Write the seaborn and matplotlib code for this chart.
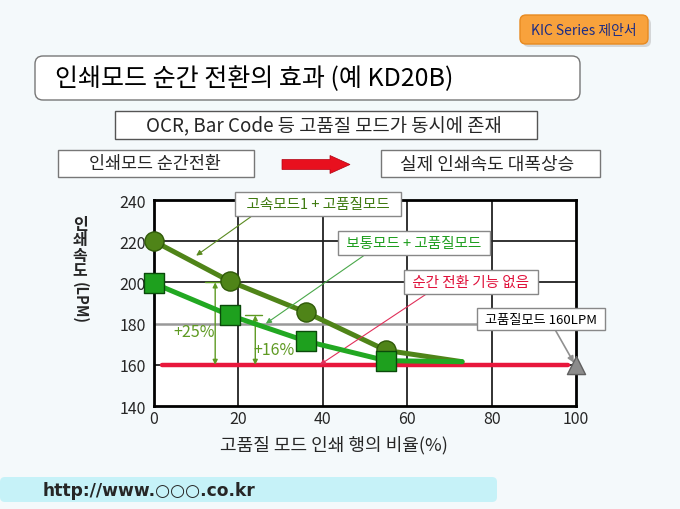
import matplotlib
matplotlib.use("Agg")
import matplotlib.pyplot as plt
import seaborn as sns
from matplotlib.patches import FancyBboxPatch, Rectangle, FancyArrow

# 데이터
ratio = [0, 18, 36, 55]
fast_speed = [220, 200.5, 185.5, 167]      # 고속모드1 + 고품질모드
normal_speed = [199.5, 184, 171.5, 162]    # 보통모드 + 고품질모드
tail_ratio = [55, 73]
fast_tail = [167, 161.5]
normal_tail = [162, 161.5]
no_switch_x = [2, 98]                      # 순간 전환 기능 없음
no_switch_y = [160, 160]
hq_x = [100]                               # 고품질모드 160LPM
hq_y = [160]
x_ticks = [0, 20, 40, 60, 80, 100]
y_ticks = [140, 160, 180, 200, 220, 240]

sns.set_style("white")
plt.rcParams['font.family'] = ['Noto Sans CJK KR', 'DejaVu Sans']

BG = '#f4f9fb'
fig = plt.figure(figsize=(6.8, 5.1), dpi=100, facecolor=BG)

# 슬라이드 배경 (픽셀 좌표)
bg = fig.add_axes([0, 0, 1, 1], zorder=0)
bg.set_xlim(0, 680)
bg.set_ylim(510, 0)
bg.axis('off')

# KIC 박스
bg.add_patch(FancyBboxPatch((523, 19), 128, 29, boxstyle='round,pad=0,rounding_size=6',
                            fc='#c0c0c0', ec='none', alpha=0.6))
bg.add_patch(FancyBboxPatch((520, 16), 128, 29, boxstyle='round,pad=0,rounding_size=6',
                            fc='#f8a23c', ec='#e88a20', lw=1))
bg.text(584, 31, 'KIC Series 제안서', ha='center', va='center', fontsize=10, color='#1b2c86')

# 제목 박스
bg.add_patch(FancyBboxPatch((35, 57), 545, 44, boxstyle='round,pad=0,rounding_size=8',
                            fc='white', ec='#777777', lw=1))
bg.text(55, 79, '인쇄모드 순간 전환의 효과 (예 KD20B)', ha='left', va='center',
        fontsize=18, style='italic', color='black')

bg.add_patch(Rectangle((115, 112), 422, 28, fc='white', ec='#555555', lw=1))
bg.text(324, 126, 'OCR, Bar Code 등 고품질 모드가 동시에 존재', ha='center', va='center', fontsize=13.5)

bg.add_patch(Rectangle((58, 151), 196, 27, fc='white', ec='#777777', lw=1))
bg.text(155, 164.5, '인쇄모드 순간전환', ha='center', va='center', fontsize=12.5)

bg.add_patch(FancyArrow(282, 165.5, 48, 0, width=10, head_width=18, head_length=20,
                        length_includes_head=False, fc='#e8101e', ec='#b00010', lw=0.5))

bg.add_patch(Rectangle((381, 151), 219, 27, fc='white', ec='#777777', lw=1))
bg.text(487, 164.5, '실제 인쇄속도 대폭상승', ha='center', va='center', fontsize=13)

# 하단 URL 바
bg.add_patch(FancyBboxPatch((0, 478), 497, 25, boxstyle='round,pad=0,rounding_size=5',
                            fc='#c6f2f8', ec='none'))
bg.text(43, 491, 'http://www.○○○.co.kr', ha='left', va='center', fontsize=12.3,
        fontweight='bold', family=['DejaVu Sans', 'Noto Sans CJK KR'])

# y축 라벨 (세로 글자)
bg.text(80, 248, '인\n쇄\n속\n도', ha='center', va='center', fontsize=11.5, linespacing=0.95,
        fontweight='bold')
bg.text(80, 303, '(LPM)', ha='center', va='center', fontsize=10.5, rotation=-90, fontweight='bold')
bg.text(334, 445, '고품질 모드 인쇄 행의 비율(%)', ha='center', va='center', fontsize=13)

# 메인 그래프
ax = fig.add_axes([154 / 680, 1 - 407 / 510, (576 - 154) / 680, (407 - 201) / 510], zorder=1)
ax.set_facecolor('white')
ax.set_xlim(0, 100)
ax.set_ylim(140, 240)
ax.set_xticks(x_ticks)
ax.set_yticks(y_ticks)
ax.tick_params(axis='x', length=0, labelsize=11.5, pad=3)
ax.tick_params(axis='y', length=0, labelsize=11.5, pad=6)
for s in ax.spines.values():
    s.set_color('black')
    s.set_linewidth(2)
for xv in x_ticks[1:-1]:
    ax.axvline(xv, color='#222222', lw=1.3, zorder=0)
for yv in [160, 200, 220]:
    ax.axhline(yv, color='#222222', lw=1.3, zorder=0)
ax.axhline(180, color='#999999', lw=1.8, zorder=0)
ax.set_xlabel('')
ax.set_ylabel('')

sns.lineplot(x=no_switch_x, y=no_switch_y, color='#e8173c', linewidth=3.2, ax=ax, zorder=2)
sns.lineplot(x=ratio, y=fast_speed, color='#4f8418', linewidth=3.6, ax=ax, zorder=3)
sns.lineplot(x=tail_ratio, y=fast_tail, color='#4f8418', linewidth=3.6, ax=ax, zorder=3)
sns.lineplot(x=ratio, y=normal_speed, color='#22a822', linewidth=3.6, ax=ax, zorder=4)
sns.lineplot(x=tail_ratio, y=normal_tail, color='#22a822', linewidth=3.6, ax=ax, zorder=4)
sns.scatterplot(x=ratio, y=fast_speed, marker='o', s=190, color='#4f8418',
                edgecolor='#2f5a08', linewidth=1, ax=ax, zorder=5, clip_on=False)
sns.scatterplot(x=ratio, y=normal_speed, marker='s', s=190, color='#1ea01e',
                edgecolor='#0a4a0a', linewidth=1, ax=ax, zorder=6, clip_on=False)
sns.scatterplot(x=hq_x, y=hq_y, marker='^', s=170, color='#8c8c8c',
                edgecolor='#606060', linewidth=1, ax=ax, zorder=6, clip_on=False)

# +25%, +16% 표시
ac = '#5e9a22'
ax.annotate('', xy=(14.5, 160), xytext=(14.5, 200),
            arrowprops=dict(arrowstyle='<|-|>', color=ac, lw=1, mutation_scale=7, shrinkA=0, shrinkB=0))
ax.annotate('', xy=(24, 160), xytext=(24, 184),
            arrowprops=dict(arrowstyle='<|-|>', color=ac, lw=1, mutation_scale=7, shrinkA=0, shrinkB=0))
ax.plot([21.5, 25.5], [184, 184], color=ac, lw=1)
ax.plot([12, 17], [200, 200], color=ac, lw=1)
ax.text(9.5, 176, '+25%', color=ac, fontsize=11.5, ha='center', va='center')
ax.text(28.5, 167.5, '+16%', color=ac, fontsize=11.5, ha='center', va='center')

# 설명 박스
def box():
    return dict(boxstyle='square,pad=0.35', fc='white', ec='#888888', lw=1)

ax.annotate('  고속모드1 + 고품질모드  ', xy=(10, 213), xytext=(38.9, 238), color='#3f7a10',
            fontsize=10.5, ha='center', va='center', bbox=box(), annotation_clip=False,
            arrowprops=dict(arrowstyle='-|>', color='#5a8a20', lw=0.8, mutation_scale=8,
                            relpos=(0.12, 0.0), shrinkA=0, shrinkB=0))
ax.annotate(' 보통모드 + 고품질모드 ', xy=(26.5, 180), xytext=(61.6, 219), color='#1f9e1f',
            fontsize=10.5, ha='center', va='center', bbox=box(), annotation_clip=False,
            arrowprops=dict(arrowstyle='-|>', color='#4aa84a', lw=0.8, mutation_scale=8,
                            relpos=(0.2, 0.0), shrinkA=0, shrinkB=0))
ax.annotate(' 순간 전환 기능 없음 ', xy=(39.3, 160), xytext=(75.1, 200.2), color='#e0103a',
            fontsize=10.5, ha='center', va='center', bbox=box(), annotation_clip=False,
            arrowprops=dict(arrowstyle='-|>', color='#e0305a', lw=0.8, mutation_scale=8,
                            relpos=(0.2, 0.0), shrinkA=0, shrinkB=0))
ax.annotate(' 고품질모드 160LPM ', xy=(99.5, 161), xytext=(91.7, 182.2), color='black',
            fontsize=9.5, ha='center', va='center', bbox=box(), annotation_clip=False,
            arrowprops=dict(arrowstyle='-|>', color='#909090', lw=1.2, mutation_scale=9,
                            relpos=(0.6, 0.0), shrinkA=0, shrinkB=0))

fig.savefig('out.png', dpi=100, facecolor=BG)
